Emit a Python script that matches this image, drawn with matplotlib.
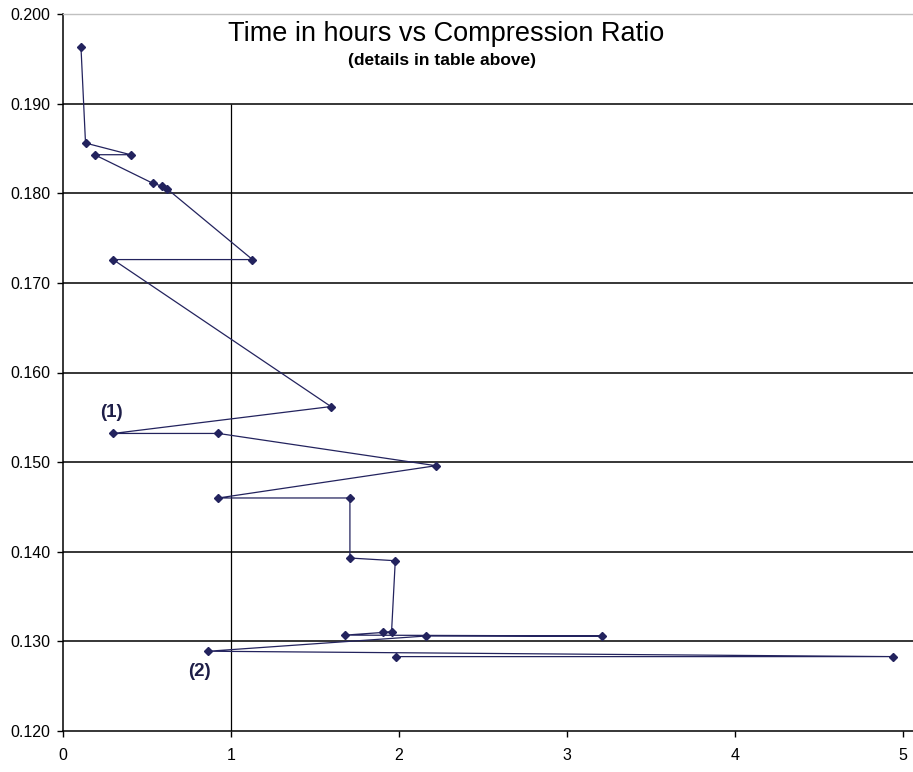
import matplotlib
matplotlib.use("Agg")
import matplotlib.pyplot as plt

plt.rcParams['font.family'] = ['Liberation Sans', 'DejaVu Sans']

# Data (time in hours, compression ratio), in drawing order
hours = [0.107, 0.134, 0.402, 0.188, 0.536, 0.589, 0.619, 1.128, 0.298,
         1.595, 0.300, 0.925, 2.220, 0.925, 1.708, 1.708, 1.978, 1.956,
         1.907, 1.681, 3.206, 2.161, 0.865, 4.938, 1.982]
ratio = [0.1963, 0.1856, 0.1843, 0.1843, 0.1811, 0.1808, 0.1805, 0.1726, 0.1726,
         0.1562, 0.1532, 0.1532, 0.1496, 0.1460, 0.1460, 0.1393, 0.1390, 0.1311,
         0.1310, 0.1307, 0.1306, 0.1306, 0.1289, 0.1283, 0.1283]

x_ticks = [0, 1, 2, 3, 4, 5]
y_ticks = [0.120, 0.130, 0.140, 0.150, 0.160, 0.170, 0.180, 0.190, 0.200]
y_tick_labels = ["0.120", "0.130", "0.140", "0.150", "0.160", "0.170", "0.180", "0.190", "0.200"]

ref_x = 1.0
ref_top = 0.190

note_labels = ["(1)", "(2)"]
note_x = [0.22, 0.745]
note_y = [0.1555, 0.1266]

title = "Time in hours vs Compression Ratio"
subtitle = "(details in table above)"

navy = "#23235e"

fig = plt.figure(figsize=(9.13, 7.72), dpi=100)
ax = fig.add_axes([63/913, 41/772, 1 - 63/913, (731-14)/772])
ax.set_xlim(0, 5.06)
ax.set_ylim(0.120, 0.200)

# gridlines (black) for interior levels
for yv in y_ticks[1:-1]:
    ax.axhline(yv, color="black", lw=1.1, zorder=1)

ax.vlines(ref_x, 0.120, ref_top, color="black", lw=0.9, zorder=1)

ax.plot(hours, ratio, color=navy, lw=0.9, marker="D", markersize=3.6,
        markerfacecolor=navy, markeredgecolor=navy, zorder=3)

for lab, xx, yy in zip(note_labels, note_x, note_y):
    ax.text(xx, yy, lab, fontsize=13.5, fontweight="bold", color="#1e1e48",
            ha="left", va="center")

ax.set_xticks(x_ticks)
ax.set_xticklabels([str(t) for t in x_ticks])
ax.set_yticks(y_ticks)
ax.set_yticklabels(y_tick_labels)
ax.tick_params(axis="both", direction="out", length=4, width=1, labelsize=11.5,
               colors="black", pad=5)
ax.tick_params(axis="x", pad=8)

ax.spines["right"].set_visible(False)
ax.spines["top"].set_color("#c0c0c0")
ax.spines["top"].set_linewidth(1.0)
ax.spines["left"].set_linewidth(1.1)
ax.spines["bottom"].set_linewidth(1.1)

fig.text(446/913, 1 - 34/772, title, fontsize=19.5, ha="center", va="center")
fig.text(442/913, 1 - 60/772, subtitle, fontsize=12.5, fontweight="bold",
         ha="center", va="center")

fig.savefig("out.png", dpi=100)
